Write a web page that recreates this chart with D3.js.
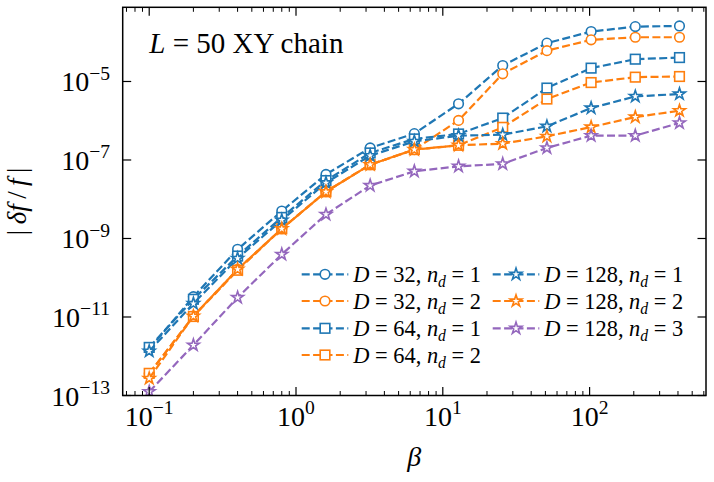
<!DOCTYPE html>
<html><head><meta charset="utf-8">
<script src="https://cdn.jsdelivr.net/npm/d3@7"></script>
<style>
body{margin:0;background:#fff}
svg{display:block}
text{font-family:"Liberation Serif","Times New Roman",serif;fill:#000}
</style>
</head><body>
<svg id="c" width="714" height="482"></svg>
<script>
// ---- data ----
const beta = [0.1, 0.2, 0.4, 0.8, 1.6, 3.2, 6.4, 12.8, 25.6, 51.2, 102.4, 204.8, 409.6];
const d32n1  = [1.52e-12, 3.3e-11, 5.3e-10, 5.0e-9, 4.3e-8, 2.03e-7, 4.7e-7, 2.7e-6, 2.55e-5, 9.5e-5, 1.87e-4, 2.5e-4, 2.6e-4];
const d32n2  = [3.6e-13, 1.05e-11, 1.64e-10, 1.77e-9, 1.57e-8, 7.6e-8, 1.84e-7, 1.02e-6, 1.57e-5, 6.1e-5, 1.15e-4, 1.34e-4, 1.34e-4];
const d64n1  = [1.68e-12, 2.83e-11, 3.57e-10, 3.44e-9, 2.99e-8, 1.51e-7, 3.44e-7, 4.6e-7, 1.17e-6, 6.8e-6, 2.19e-5, 3.7e-5, 4.07e-5];
const d64n2  = [3.67e-13, 1.03e-11, 1.55e-10, 1.77e-9, 1.55e-8, 7.6e-8, 1.84e-7, 2.37e-7, 6.8e-7, 3.57e-6, 9.4e-6, 1.29e-5, 1.34e-5];
const d128n1 = [1.35e-12, 2.2e-11, 3.12e-10, 2.94e-9, 2.62e-8, 1.29e-7, 2.98e-7, 4.17e-7, 4.4e-7, 7.2e-7, 2.11e-6, 4.16e-6, 4.8e-6];
const d128n2 = [2.73e-13, 1.05e-11, 1.64e-10, 1.77e-9, 1.55e-8, 7.6e-8, 1.84e-7, 2.37e-7, 2.61e-7, 4.0e-7, 6.9e-7, 1.24e-6, 1.8e-6];
const d128n3 = [1.25e-13, 1.92e-12, 3.13e-11, 3.94e-10, 4.1e-9, 2.23e-8, 5.16e-8, 6.9e-8, 7.96e-8, 2.03e-7, 4.17e-7, 4.17e-7, 8.8e-7];
const seriesValues = [d32n1, d32n2, d64n1, d64n2, d128n1, d128n2, d128n3];
const bondDims = [32, 32, 64, 64, 128, 128, 128];
const nds = [1, 2, 1, 2, 1, 2, 3];
const xTickExps = [-1, 0, 1, 2];
const yTickExps = [-13, -11, -9, -7, -5];
const titleText = "XY chain";

// ---- styles ----
const colors = ["#1f77b4", "#ff7f0e", "#1f77b4", "#ff7f0e", "#1f77b4", "#ff7f0e", "#9467bd"];
const markers = ["circle", "circle", "square", "square", "star", "star", "star"];

const m = {l: 122.7, r: 706, t: 7.3, b: 395.5};
const svg = d3.select("#c");
const x = d3.scaleLog().domain([Math.pow(10, -1.1806), Math.pow(10, 2.793)]).range([m.l, m.r]);
const y = d3.scaleLog().domain([1e-13, Math.pow(10, -3.11)]).range([m.b, m.t]);

svg.append("defs").append("clipPath").attr("id", "clip")
  .append("rect").attr("x", m.l).attr("y", m.t).attr("width", m.r - m.l).attr("height", m.b - m.t);

function starPath(R) {
  const r = R * 0.381966; let p = "";
  for (let i = 0; i < 10; i++) {
    const rad = i % 2 === 0 ? R : r;
    const a = -Math.PI / 2 + i * Math.PI / 5;
    p += (i === 0 ? "M" : "L") + (rad * Math.cos(a)).toFixed(2) + "," + (rad * Math.sin(a)).toFixed(2);
  }
  return p + "Z";
}
function drawMarker(g, type, cx, cy, color) {
  let el;
  if (type === "circle") el = g.append("circle").attr("cx", cx).attr("cy", cy).attr("r", 4.8);
  else if (type === "square") el = g.append("rect").attr("x", cx - 4.8).attr("y", cy - 4.8).attr("width", 9.6).attr("height", 9.6);
  else el = g.append("path").attr("d", starPath(6.2)).attr("transform", `translate(${cx},${cy})`).attr("stroke-linejoin", "miter");
  el.attr("fill", "#fff").attr("stroke", color).attr("stroke-width", 1.6);
}

const plot = svg.append("g").attr("clip-path", "url(#clip)");
const line = d3.line().x(d => x(d[0])).y(d => y(d[1]));
seriesValues.forEach((vals, i) => {
  const pts = beta.map((b, j) => [b, vals[j]]);
  const g = plot.append("g");
  g.append("path").attr("d", line(pts)).attr("fill", "none").attr("stroke", colors[i])
    .attr("stroke-width", 2.2).attr("stroke-dasharray", "8,3.4");
  pts.forEach(p => drawMarker(g, markers[i], x(p[0]), y(p[1]), colors[i]));
});

// ticks
const tk = svg.append("g").attr("stroke", "#000").attr("stroke-width", 1.2);
const xMajor = xTickExps.map(e => Math.pow(10, e));
const xMinor = [];
for (let e = -2; e <= 2; e++) for (let k = 2; k <= 9; k++) {
  const v = k * Math.pow(10, e);
  if (v >= x.domain()[0] && v <= x.domain()[1]) xMinor.push(v);
}
xMajor.forEach(v => {
  tk.append("line").attr("x1", x(v)).attr("x2", x(v)).attr("y1", m.b).attr("y2", m.b - 8.5);
  tk.append("line").attr("x1", x(v)).attr("x2", x(v)).attr("y1", m.t).attr("y2", m.t + 8.5);
});
xMinor.forEach(v => {
  tk.append("line").attr("x1", x(v)).attr("x2", x(v)).attr("y1", m.b).attr("y2", m.b - 4.5).attr("stroke-width", 1);
  tk.append("line").attr("x1", x(v)).attr("x2", x(v)).attr("y1", m.t).attr("y2", m.t + 4.5).attr("stroke-width", 1);
});
yTickExps.forEach(e => {
  const v = Math.pow(10, e);
  tk.append("line").attr("x1", m.l).attr("x2", m.l + 8.5).attr("y1", y(v)).attr("y2", y(v));
  tk.append("line").attr("x1", m.r).attr("x2", m.r - 8.5).attr("y1", y(v)).attr("y2", y(v));
});

// spines
svg.append("rect").attr("x", m.l).attr("y", m.t).attr("width", m.r - m.l).attr("height", m.b - m.t)
  .attr("fill", "none").attr("stroke", "#000").attr("stroke-width", 1.5);

function expLabel(t, e, fs) {
  t.append("tspan").text("10");
  t.append("tspan").attr("font-size", fs * 0.7).attr("dy", -fs * 0.42).text(String(e).replace("-", "\u2212"));
}
const fs = 28;
xTickExps.forEach(e => {
  const t = svg.append("text").attr("x", x(Math.pow(10, e))).attr("y", 426).attr("text-anchor", "middle").attr("font-size", fs);
  expLabel(t, e, fs);
});
yTickExps.forEach(e => {
  const t = svg.append("text").attr("x", 110).attr("y", y(Math.pow(10, e)) + 10).attr("text-anchor", "end").attr("font-size", fs);
  expLabel(t, e, fs);
});

// axis labels
svg.append("text").attr("x", (m.l + m.r) / 2).attr("y", 466).attr("text-anchor", "middle")
  .attr("font-size", fs).attr("font-style", "italic").text("\u03b2");
const yl = svg.append("text").attr("transform", `translate(26,${(m.t + m.b) / 2}) rotate(-90)`)
  .attr("text-anchor", "middle").attr("font-size", 27);
yl.append("tspan").text("|\u2009");
yl.append("tspan").attr("font-style", "italic").text("\u03b4f");
yl.append("tspan").text("\u2009/\u2009");
yl.append("tspan").attr("font-style", "italic").text("f");
yl.append("tspan").text("\u2009|");

// title
const tt = svg.append("text").attr("x", 149.3).attr("y", 53.3).attr("font-size", 29);
tt.append("tspan").attr("font-style", "italic").text("L");
tt.append("tspan").text(" = 50 " + titleText);

// legend
const lfs = 22.4;
const rowY = [274.3, 301, 328.3, 355];
const colX = [301.7, 492.7];
seriesValues.forEach((vals, i) => {
  const col = i < 4 ? 0 : 1, row = i < 4 ? i : i - 4;
  const x0 = colX[col], cy = rowY[row];
  const g = svg.append("g");
  g.append("line").attr("x1", x0).attr("x2", x0 + 46.6).attr("y1", cy).attr("y2", cy)
    .attr("stroke", colors[i]).attr("stroke-width", 2.2).attr("stroke-dasharray", "8,3.4");
  drawMarker(g, markers[i], x0 + 23.3, cy, colors[i]);
  const t = g.append("text").attr("x", x0 + 51.6).attr("y", cy + 8).attr("font-size", lfs);
  t.append("tspan").attr("font-style", "italic").text("D");
  t.append("tspan").text(" = " + bondDims[i] + ", ");
  t.append("tspan").attr("font-style", "italic").text("n");
  t.append("tspan").attr("font-style", "italic").attr("font-size", lfs * 0.7).attr("dy", 4.5).text("d");
  t.append("tspan").attr("dy", -4.5).text(" = " + nds[i]);
});
</script>
</body></html>
